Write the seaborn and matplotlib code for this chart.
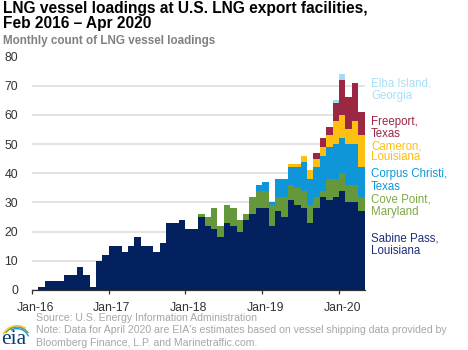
import numpy as np
import pandas as pd
import matplotlib
matplotlib.use('Agg')
import matplotlib.pyplot as plt
from matplotlib.patches import Wedge
import seaborn as sns

# monthly loadings, Jan-16 to Apr-20, cumulative top of each stacked band
months = pd.date_range('2016-01-01', '2020-04-01', freq='MS')
sabine = [0, 1, 3, 3, 3, 5, 5, 8, 5, 1, 10, 12,
          15, 15, 13, 15, 18, 15, 15, 13, 16, 23, 23, 24,
          21, 21, 25, 22, 21, 18, 23, 22, 20, 24, 26, 28,
          28, 22, 27, 25, 31, 29, 28, 23, 28, 32, 31, 32,
          34, 30, 30, 27]
cove_top = [0, 1, 3, 3, 3, 5, 5, 8, 5, 1, 10, 12,
            15, 15, 13, 15, 18, 15, 15, 13, 16, 23, 23, 24,
            21, 21, 26, 25, 28, 22, 29, 28, 24, 26, 32, 34,
            34, 29, 32, 32, 36, 35, 34, 29, 32, 34, 38, 38,
            40, 36, 36, 32]
corpus_top = cove_top[:35] + [36, 37, 30, 38, 38, 42, 42, 44, 38, 42, 46, 49, 50, 52, 50, 50, 42]
cameron_top = corpus_top[:40] + [43, 43, 46, 41, 45, 49, 53, 58, 60, 55, 58, 53]
freeport_top = cameron_top[:44] + [47, 52, 56, 64, 72, 66, 71, 61]
elba_top = freeport_top[:47] + [65, 74, 66, 71, 61]

bands = [elba_top, freeport_top, cameron_top, corpus_top, cove_top, sabine]
band_colors = ['#a5dcf5', '#9b2743', '#fdc010', '#0f96d8', '#64983a', '#03205f']
labels = ['Elba Island,\nGeorgia', 'Freeport,\nTexas', 'Cameron,\nLouisiana',
          'Corpus Christi,\nTexas', 'Cove Point,\nMaryland', 'Sabine Pass,\nLouisiana']
label_colors = ['#a9def7', '#9b2743', '#fdc010', '#0f96d8', '#7da845', '#1d2f7a']
label_y = [90, 128, 152, 180.5, 206, 244.5]
label_spacing = [1.1, 1.1, 0.85, 1.1, 1.05, 1.1]
ticks = ['Jan-16', 'Jan-17', 'Jan-18', 'Jan-19', 'Jan-20']

sns.set_theme(style='white')
plt.rcParams['font.family'] = ['Liberation Sans', 'DejaVu Sans']

W, H = 468, 350
fig = plt.figure(figsize=(W / 100, H / 100), dpi=100)
ax = fig.add_axes([32 / W, 1 - 290 / H, (364.5 - 32) / W, (290 - 56.5) / H])

# one barplot per cumulative band, tallest first so the lower ones paint over it
for top, color in zip(bands, band_colors):
    df = pd.DataFrame({'month': months, 'top': top})
    sns.barplot(data=df, x='month', y='top', color=color, width=1.0, saturation=1,
                linewidth=0, ax=ax, zorder=3)

ax.set_xlim(-0.5, len(months) - 0.5)
ax.set_ylim(0, 80)
ax.set_xlabel('')
ax.set_ylabel('')
ax.set_yticks(range(0, 81, 10))
# labels sit on the January bar, the tick marks on its left edge
ax.set_xticks(np.arange(0, 49, 12), ticks)
ax.set_xticks(np.arange(0, 49, 12) - 0.5, minor=True)
ax.tick_params(axis='y', length=0, labelsize=8.8, labelcolor='#333333', pad=10)
ax.tick_params(axis='x', which='major', length=0, labelsize=8.8, labelcolor='#333333', pad=8.5)
ax.tick_params(axis='x', which='minor', length=3, width=0.9, color='#333333', direction='out', bottom=True)
ax.grid(axis='y', color='#dcdcdc', linewidth=1.1, zorder=0)
ax.grid(axis='x', visible=False)
ax.set_axisbelow(True)
for side in ['top', 'right', 'left']:
    ax.spines[side].set_visible(False)
ax.spines['bottom'].set_color('#333333')
ax.spines['bottom'].set_linewidth(0.9)

fig.text(3 / W, 1 - 1 / H, 'LNG vessel loadings at U.S. LNG export facilities,\nFeb 2016 \u2013 Apr 2020',
         fontsize=11.2, fontweight='bold', color='black', va='top', linespacing=1.0)
fig.text(3 / W, 1 - 41 / H, 'Monthly count of LNG vessel loadings', fontsize=8.4,
         fontweight='bold', color='#808080', va='center')

for lab, col, y, sp in zip(labels, label_colors, label_y, label_spacing):
    fig.text(371 / W, 1 - y / H, lab, fontsize=8.3, color=col, va='center', linespacing=sp)

fig.text(36 / W, 1 - 318 / H, 'Source: U.S. Energy Information Administration', fontsize=7.6,
         color='#a6a6a6', va='center')
fig.text(36 / W, 1 - 330 / H, "Note: Data for April 2020 are EIA's estimates based on vessel shipping data provided by",
         fontsize=7.6, color='#a6a6a6', va='center')
fig.text(36 / W, 1 - 343 / H, 'Bloomberg Finance, L.P. and Marinetraffic.com.', fontsize=7.6,
         color='#a6a6a6', va='center')

# eia logo
logo = fig.add_axes([0, 0, 1, 1], facecolor='none')
logo.set_xlim(0, W)
logo.set_ylim(H, 0)
logo.axis('off')
for r, t1, t2, c in [(16, 205, 305, '#fdc010'), (14.5, 215, 325, '#64983a'), (13, 240, 338, '#0f96d8')]:
    logo.add_patch(Wedge((17, 341), r, t1, t2, width=1.3, color=c, lw=0))
logo.text(1.5, 349, 'eia', family='Liberation Serif', fontsize=15.5, color='#0b3a6e', va='bottom')

fig.savefig('out.png', dpi=100)
